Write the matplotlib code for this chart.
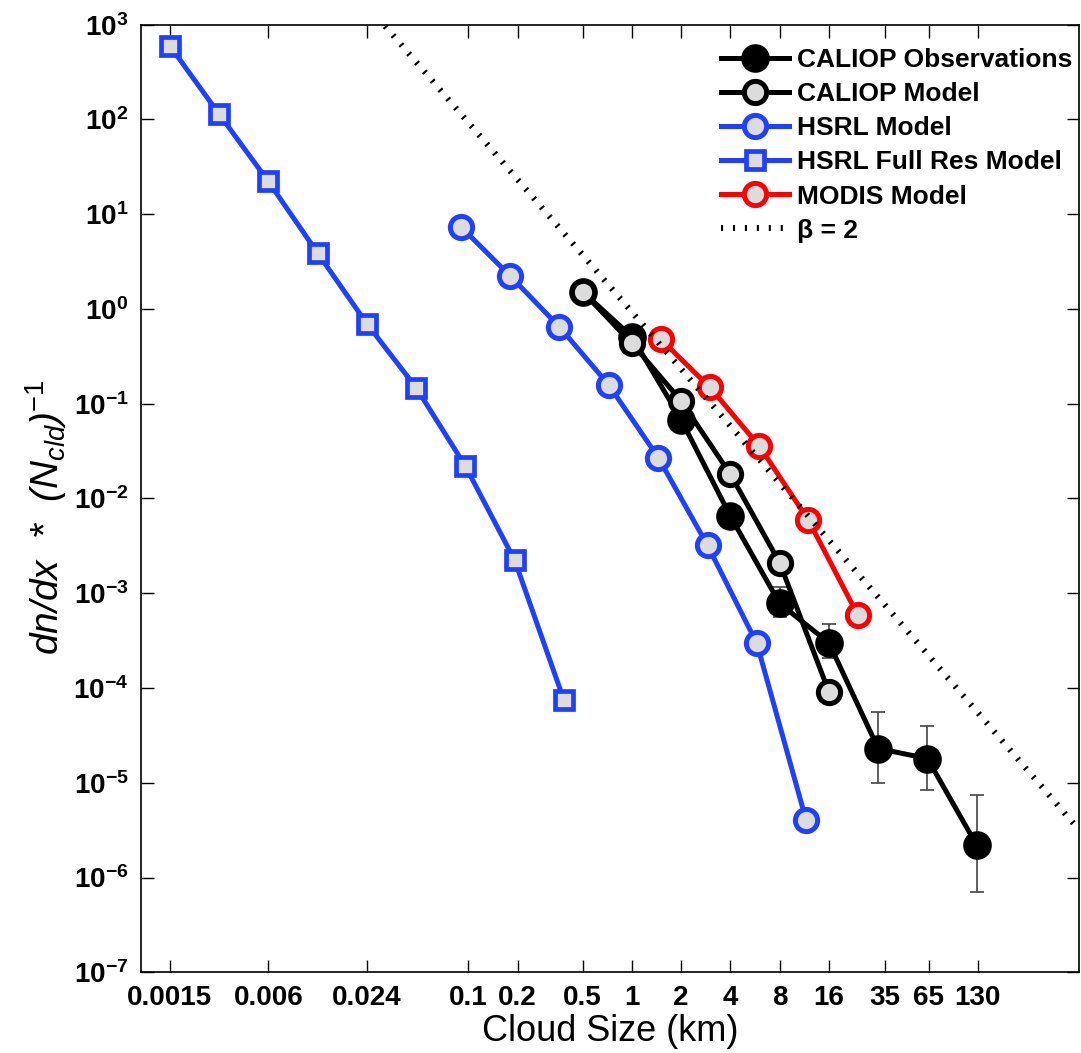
import numpy as np
import matplotlib
matplotlib.use('Agg')
from matplotlib import pyplot as plt
from matplotlib.ticker import NullLocator, FixedLocator, FixedFormatter

plt.rcParams['font.family'] = ['Liberation Sans', 'DejaVu Sans']
plt.rcParams['font.weight'] = 'bold'
plt.rcParams['axes.labelweight'] = 'normal'
plt.rcParams['mathtext.fontset'] = 'custom'
plt.rcParams['mathtext.rm'] = 'Liberation Sans:normal'
plt.rcParams['mathtext.it'] = 'Liberation Sans:italic:normal'
plt.rcParams['mathtext.bf'] = 'Liberation Sans:bold'

# data
caliop_obs_x = [0.5, 1, 2, 4, 8, 16, 32, 64, 128]
caliop_obs_y = [1.52, 0.51, 0.068, 0.0065, 7.8e-4, 3.0e-4, 2.3e-5, 1.8e-5, 2.2e-6]

# error bars on the large cloud bins
err_x = [8, 16, 32, 64, 128]
err_y = [7.8e-4, 3.0e-4, 2.3e-5, 1.8e-5, 2.2e-6]
err_hi = [1.16e-3, 4.7e-4, 5.6e-5, 4.0e-5, 7.4e-6]
err_lo = [5.6e-4, 2.06e-4, 9.9e-6, 8.4e-6, 7.0e-7]

caliop_mod_x = [0.5, 1, 2, 4, 8, 16]
caliop_mod_y = [1.52, 0.434, 0.107, 0.018, 0.0021, 9.1e-5]

hsrl_mod_x = [0.09, 0.18, 0.36, 0.72, 1.45, 2.9, 5.8, 11.6]
hsrl_mod_y = [7.4, 2.24, 0.65, 0.159, 0.027, 0.0032, 2.96e-4, 4.05e-6]

hsrl_full_x = [0.0015, 0.003, 0.006, 0.012, 0.024, 0.048, 0.096, 0.192, 0.384]
hsrl_full_y = [600, 114, 22.2, 3.9, 0.70, 0.148, 0.022, 0.00224, 7.5e-5]

modis_x = [1.5, 3, 6, 12, 24]
modis_y = [0.48, 0.149, 0.0358, 0.0059, 5.9e-4]

beta = 2
beta_c = 0.93
beta_x = np.array([1e-3, 540])

xtick_vals = [0.0015, 0.006, 0.024, 0.1, 0.2, 0.5, 1, 2, 4, 8, 16, 35, 65, 130]
xtick_labels = ['0.0015', '0.006', '0.024', '0.1', '0.2', '0.5', '1', '2', '4',
                '8', '16', '35', '65', '130']

blue = '#2040ff'
fill = '#dcdcdc'

fig = plt.figure(figsize=(10.81, 10.53), dpi=100)
ax = fig.add_axes([141/1081, 80.7/1053, 938/1081, 947.6/1053])

lw = 3.6
ax.plot(caliop_obs_x, caliop_obs_y, '-o', color='k', lw=lw, ms=17, mew=3.6,
        mfc='k', mec='k', label='CALIOP Observations', zorder=3)
ax.errorbar(err_x, err_y,
            yerr=[np.array(err_y) - np.array(err_lo), np.array(err_hi) - np.array(err_y)],
            fmt='none', ecolor='#444444', elinewidth=1.2, capsize=5, capthick=1.2,
            zorder=2)
ax.plot(caliop_mod_x, caliop_mod_y, '-o', color='k', lw=lw, ms=16, mew=3.6,
        mfc=fill, mec='k', label='CALIOP Model', zorder=4)
ax.plot(hsrl_mod_x, hsrl_mod_y, '-o', color=blue, lw=lw, ms=16, mew=3.6,
        mfc=fill, mec=blue, label='HSRL Model', zorder=4)
ax.plot(hsrl_full_x, hsrl_full_y, '-s', color=blue, lw=lw, ms=12.5, mew=3.4,
        mfc=fill, mec=blue, label='HSRL Full Res Model', zorder=4)
ax.plot(modis_x, modis_y, '-o', color='r', lw=lw, ms=16, mew=3.6,
        mfc=fill, mec='r', label='MODIS Model', zorder=4)
ax.plot(beta_x, beta_c * beta_x ** (-beta), color='k', lw=4.3,
        dashes=(0.35, 1.65), dash_capstyle='butt', label='\u03b2 = 2', zorder=5)

ax.set_xscale('log')
ax.set_yscale('log')
ax.set_xlim(1e-3, 540)
ax.set_ylim(1e-7, 1e3)

ax.xaxis.set_major_locator(FixedLocator(xtick_vals))
ax.xaxis.set_major_formatter(FixedFormatter(xtick_labels))
ax.xaxis.set_minor_locator(NullLocator())
ax.yaxis.set_major_locator(FixedLocator([10.0 ** k for k in range(-7, 4)]))
ax.yaxis.set_minor_locator(NullLocator())
ax.tick_params(which='both', direction='in', top=True, right=True, length=9,
               width=1, labelsize=20)
ax.tick_params(axis='x', pad=9)
ax.tick_params(axis='y', pad=9)
for s in ax.spines.values():
    s.set_linewidth(1.2)

ax.set_xlabel('Cloud Size (km)', fontsize=26, labelpad=2)
ax.set_ylabel(r'dn/dx  *  (N$_{cld}$)$^{-1}$', fontsize=28, style='italic')
ax.yaxis.set_label_coords(-0.077, 0.48)

leg = ax.legend(loc='upper left', bbox_to_anchor=(0.618, 0.975), frameon=False,
                fontsize=19, handlelength=2.6, handletextpad=0.3,
                labelspacing=0.38, borderpad=0, borderaxespad=0)

fig.savefig('out.png', dpi=100)
